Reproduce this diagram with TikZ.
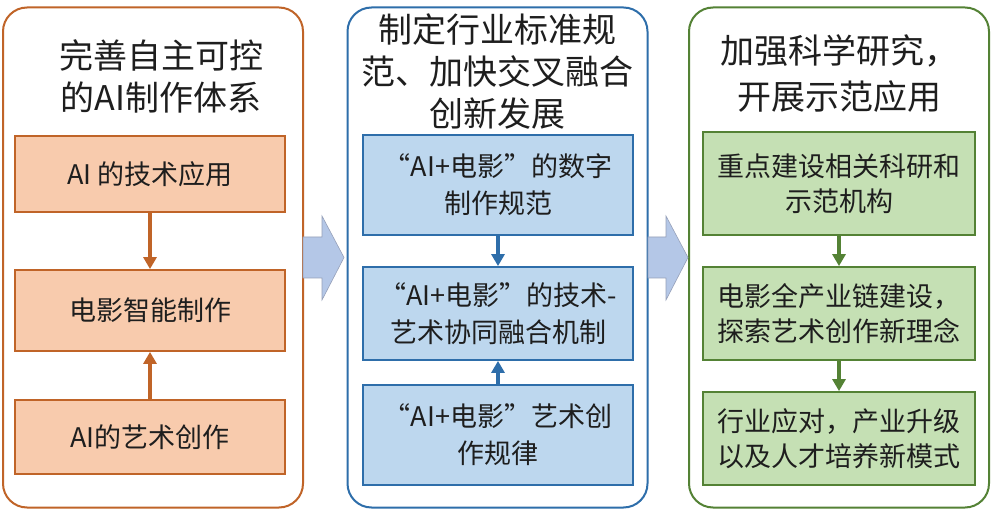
\documentclass[tikz,border=0pt]{standalone}
\usepackage{fontspec}
\setmainfont{Noto Sans CJK SC}
\usetikzlibrary{arrows.meta}
\definecolor{orD}{RGB}{192,100,40}
\definecolor{orL}{RGB}{248,203,173}
\definecolor{blD}{RGB}{46,110,170}
\definecolor{blL}{RGB}{189,215,238}
\definecolor{grD}{RGB}{84,130,53}
\definecolor{grL}{RGB}{197,224,180}
\definecolor{arF}{RGB}{180,199,231}
\definecolor{arD}{RGB}{150,160,185}
\definecolor{txt}{RGB}{30,30,30}
\tikzset{
  panel/.style={draw=#1, line width=2pt, rounded corners=24pt, fill=white, minimum width=300pt, minimum height=500pt, inner sep=0pt},
  title/.style={align=center, text=txt, font=\fontsize{34}{42}\selectfont},
  bx/.style={draw=#1, line width=1.8pt, inner sep=0pt, align=center, text=txt, font=\fontsize{27}{37}\selectfont},
  conn/.style={draw=#1, line width=3.2pt, -{Triangle[length=12pt,width=13pt]}},
  blockarrow/.style={fill=arF, draw=arD, line width=0.6pt}
}
\begin{document}
\begin{tikzpicture}[x=1pt,y=-1pt]
\useasboundingbox (0,0) rectangle (992,510);
\fill[white] (0,0) rectangle (992,510);
% panels
\node[panel=orD] (P1) at (153,257.5) {};
\node[panel=blD] (P2) at (497.5,257.5) {};
\node[panel=grD] (P3) at (839,257.5) {};
% block arrows
\draw[blockarrow] (303,237) -- (322,237) -- (322,216) -- (344,257.5) -- (322,300) -- (322,278) -- (303,278) -- cycle;
\draw[blockarrow] (648,237) -- (666,237) -- (666,216) -- (688,257.5) -- (666,300) -- (666,278) -- (648,278) -- cycle;
% titles
\node[title] (T1) at (161,76) {完善自主可控\\的AI制作体系};
\node[title] (T2) at (497,72) {制定行业标准规\\范、加快交叉融合\\创新发展};
\node[title, font=\fontsize{34}{46}\selectfont] (T3) at (839,74) {加强科学研究，\\开展示范应用};
% left boxes
\node[bx=orD, fill=orL, minimum width=270pt, minimum height=76pt] (L1) at (150,174) {AI 的技术应用};
\node[bx=orD, fill=orL, minimum width=270pt, minimum height=81pt] (L2) at (150,310.5) {电影智能制作};
\node[bx=orD, fill=orL, minimum width=270pt, minimum height=74pt] (L3) at (150,437) {AI的艺术创作};
% middle boxes
\node[bx=blD, fill=blL, minimum width=270pt, minimum height=100pt] (M1) at (498,185) {“AI+电影”的数字\\制作规范};
\node[bx=blD, fill=blL, minimum width=270pt, minimum height=93pt] (M2) at (498,313.5) {“AI+电影”的技术-\\艺术协同融合机制};
\node[bx=blD, fill=blL, minimum width=270pt, minimum height=100pt] (M3) at (498,435) {“AI+电影”艺术创\\作规律};
% right boxes
\node[bx=grD, fill=grL, minimum width=272pt, minimum height=103pt, font=\fontsize{27}{35}\selectfont] (R1) at (839,183.5) {重点建设相关科研和\\示范机构};
\node[bx=grD, fill=grL, minimum width=272pt, minimum height=93pt, font=\fontsize{27}{35}\selectfont] (R2) at (839,313.5) {电影全产业链建设，\\探索艺术创作新理念};
\node[bx=grD, fill=grL, minimum width=272pt, minimum height=93pt, font=\fontsize{27}{35}\selectfont] (R3) at (839,438.5) {行业应对，产业升级\\以及人才培养新模式};
% connectors
\draw[conn=orD] (L1.south) -- (L2.north);
\draw[conn=orD] (L3.north) -- (L2.south);
\draw[conn=blD] (M1.south) -- (M2.north);
\draw[conn=blD] (M3.north) -- (M2.south);
\draw[conn=grD] (R1.south) -- (R2.north);
\draw[conn=grD] (R2.south) -- (R3.north);
\end{tikzpicture}
\end{document}
